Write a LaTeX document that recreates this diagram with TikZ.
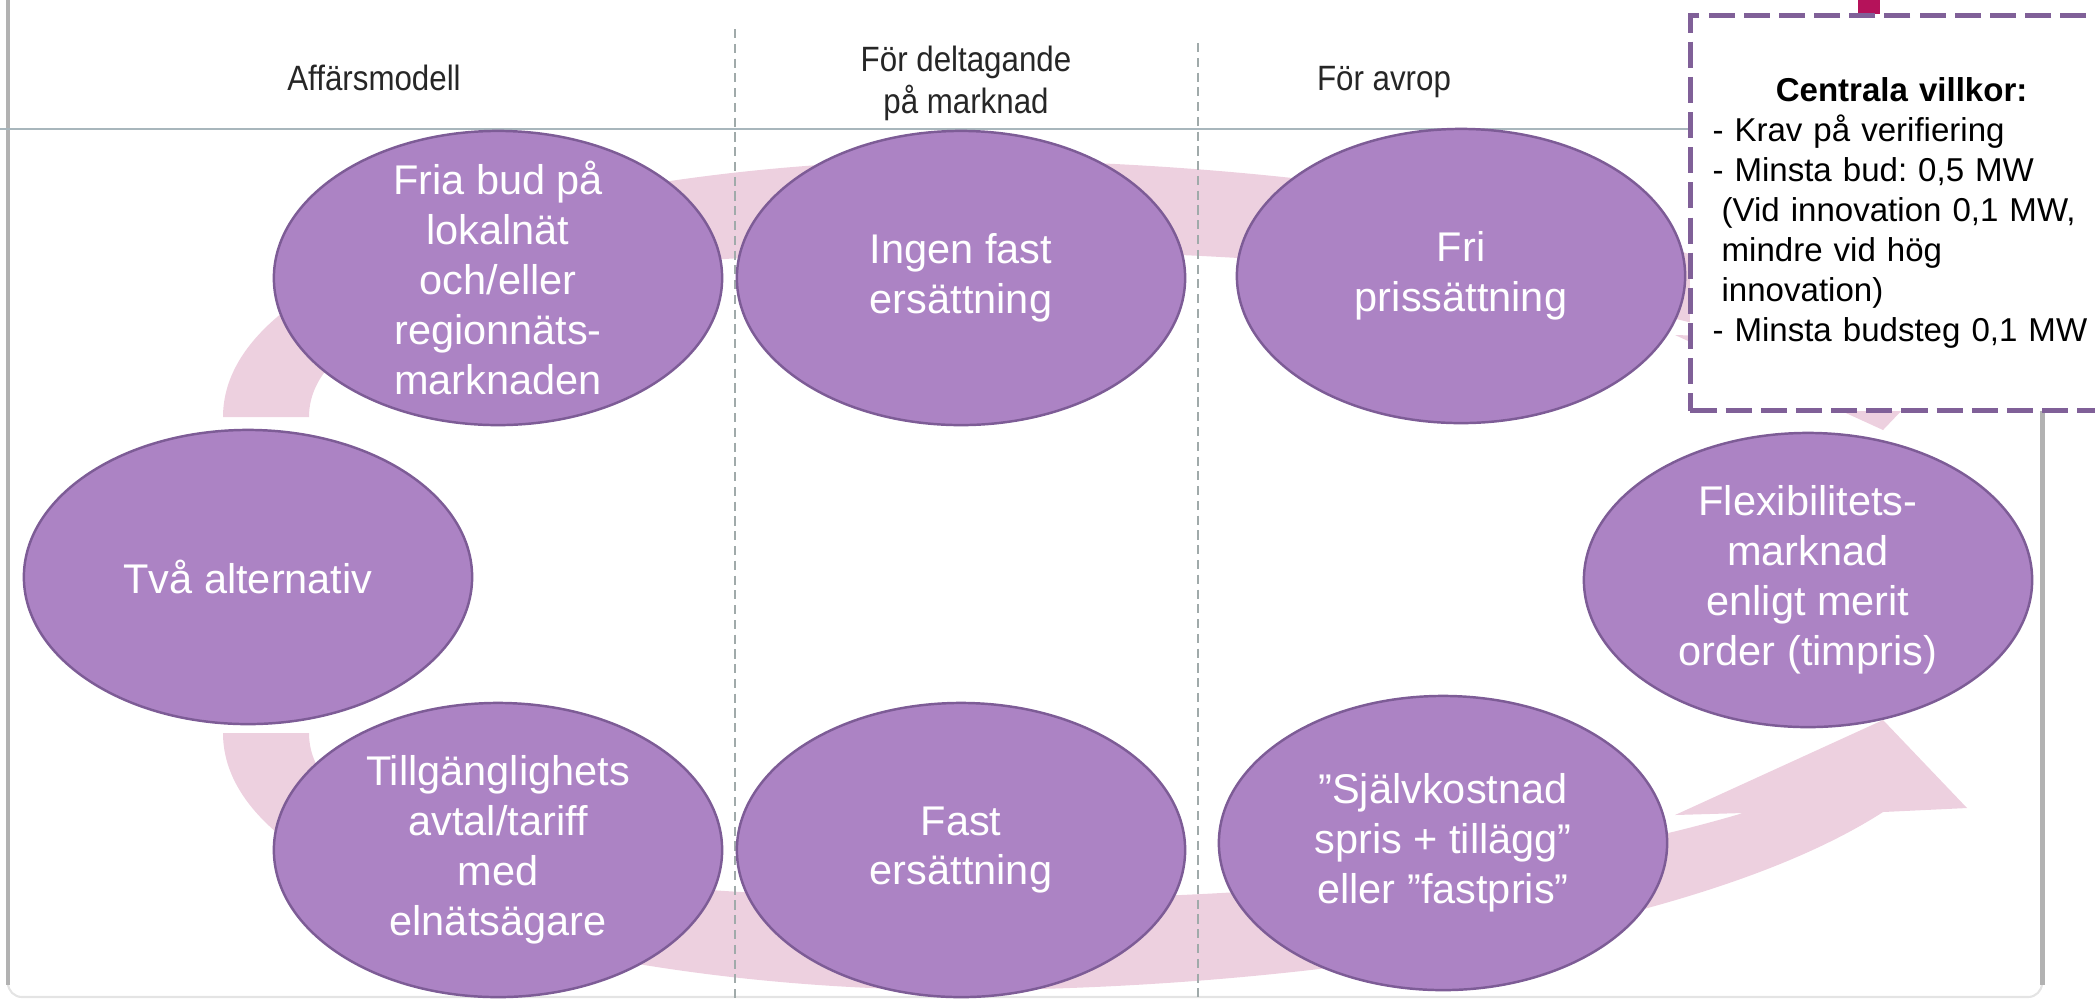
\documentclass[tikz,border=0pt]{standalone}
\usepackage{fontspec}
\setmainfont{Liberation Sans}
\newfontfamily\headfont[FakeStretch=0.89]{Liberation Sans}
\usepackage{xcolor}
\usetikzlibrary{shapes,arrows,positioning,calc}
\definecolor{bubblefill}{RGB}{172,131,196}
\definecolor{bubbleedge}{RGB}{125,92,150}
\definecolor{flowpink}{RGB}{237,208,223}
\definecolor{boxpurple}{RGB}{128,96,152}
\definecolor{framegray}{RGB}{178,178,178}
\definecolor{framelight}{RGB}{228,228,228}
\definecolor{rulegray}{RGB}{168,182,188}
\definecolor{dividergray}{RGB}{160,170,170}
\definecolor{tabmagenta}{RGB}{181,18,90}
\frenchspacing

\begin{document}
\begin{tikzpicture}[x=0.01cm, y=-0.01cm,
	bubble/.style={ellipse, draw=bubbleedge, line width=0.7pt, fill=bubblefill, minimum width=4.48cm, minimum height=2.94cm, inner sep=0pt},
	bubbletext/.style={text=white, align=center, font=\fontsize{11.8}{14.2}\selectfont},
	headtext/.style={text=black!85, align=center, font=\headfont\fontsize{10}{12}\selectfont},
	condbox/.style={draw=boxpurple, line width=1.4pt, dash pattern=on 7.4pt off 2.6pt, fill=white, minimum width=4.2cm, minimum height=3.95cm, text width=3.78cm, inner xsep=0.22cm, align=left, font=\fontsize{9.4}{11.4}\selectfont}]
				\useasboundingbox (0,0) rectangle (2095,1002);
				
				% Draw frame and header rule
				\draw[framelight, line width=0.6pt, rounded corners=0.14cm] (8,-10) -- (8,997) -- (2042,997) -- (2042,410);
				\draw[framegray, line width=1.4pt] (8,-10) -- (8,985);
				\draw[framegray, line width=1.4pt] (2042,410) -- (2042,985);
				\draw[rulegray, line width=0.5pt] (0,129) -- (1688,129);
				
				% Column headers
				\node[headtext, anchor=base] (hmodell) at (374,90) {Affärsmodell};
				\node[headtext] (hdeltag) at (966,83) {För deltagande\\på marknad};
				\node[headtext, anchor=base] (havrop) at (1384,90) {För avrop};
				
				% Upper flow arrow
				\fill[flowpink] (223,417) -- (309,417)
					.. controls (309,320) and (500,270) .. (760,257)
					.. controls (1050,242) and (1450,250) .. (1743,337)
					-- (1675,335) -- (1883,430) -- (1967,342) -- (1883,338)
					.. controls (1700,220) and (1300,160) .. (960,160)
					.. controls (620,160) and (223,250) .. (223,417) -- cycle;
				
				% Lower flow arrow
				\fill[flowpink] (223,733) -- (309,733)
					.. controls (309,830) and (500,880) .. (760,893)
					.. controls (1050,908) and (1450,900) .. (1743,813)
					-- (1675,815) -- (1883,720) -- (1967,808) -- (1883,812)
					.. controls (1700,930) and (1300,990) .. (960,990)
					.. controls (620,990) and (223,900) .. (223,733) -- cycle;
				
				% Column dividers
				\draw[dividergray, line width=0.45pt, dash pattern=on 2.6pt off 1.6pt] (735,29) -- (735,1002);
				\draw[dividergray, line width=0.45pt, dash pattern=on 2.6pt off 1.6pt] (1198,43) -- (1198,1002);
				
				% Draw the alternatives
				\node[bubble, label={[bubbletext]center:{Fria bud på\\lokalnät\\och/eller\\regionnäts-\\marknaden}}] (fria) at (498,278) {};
				\node[bubble, label={[bubbletext]center:{Ingen fast\\ersättning}}] (ingen) at (961,278) {};
				\node[bubble, label={[bubbletext]center:{Fri\\prissättning}}] (fri) at (1461,276) {};
				\node[bubble, label={[bubbletext]center:{Två alternativ}}] (tva) at (248,577) {};
				\node[bubble, label={[bubbletext]center:{Flexibilitets-\\marknad\\enligt merit\\order (timpris)}}] (flex) at (1808,580) {};
				\node[bubble, label={[bubbletext]center:{Tillgänglighets\\avtal/tariff\\med\\elnätsägare}}] (tillg) at (498,850) {};
				\node[bubble, label={[bubbletext]center:{Fast\\ersättning}}] (fast) at (961,850) {};
				\node[bubble, label={[bubbletext]center:{”Självkostnad\\spris + tillägg”\\eller ”fastpris”}}] (sjalv) at (1443,843) {};
				
				% Conditions box
				\fill[tabmagenta] (1858,0) rectangle (1880,14);
				\node[condbox, anchor=north west] (villkor) at (1688,13) {{\centering\bfseries Centrala villkor:\par}- Krav på verifiering\\- Minsta bud: 0,5 MW\\\hspace*{2.6pt}(Vid innovation 0,1 MW,\\\hspace*{2.6pt}mindre vid hög\\\hspace*{2.6pt}innovation)\\- Minsta budsteg 0,1 MW};
			\end{tikzpicture}
\end{document}
